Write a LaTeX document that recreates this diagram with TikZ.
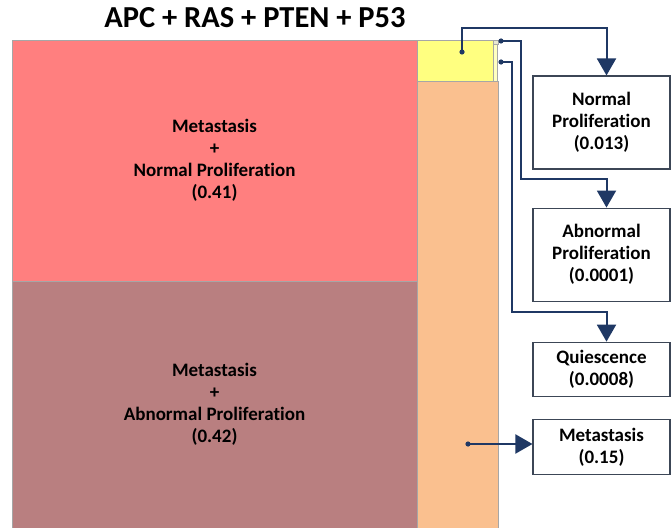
\documentclass[tikz,border=0pt]{standalone}
\usepackage{fontspec}
\setmainfont{Carlito}[Ligatures=CommonOff]
\usetikzlibrary{arrows.meta, positioning, calc}
\definecolor{cNorm}{HTML}{FF7F7F}
\definecolor{cAbn}{HTML}{B97F80}
\definecolor{cYel}{HTML}{FFFF80}
\definecolor{cPale}{HTML}{FFFFC0}
\definecolor{cTiny}{HTML}{E8E8D0}
\definecolor{cMeta}{HTML}{FAC08F}
\definecolor{cLink}{HTML}{1F3864}
\definecolor{cEdge}{HTML}{3C4656}

\begin{document}
\begin{tikzpicture}[
  x=1pt, y=-1pt,
  >={Triangle[length=17pt, width=19pt]},
  txt/.style={font=\fontsize{19}{22}\selectfont\bfseries},
  tile/.style={rectangle, draw=black!35, line width=0.6pt, fill=#1,
               anchor=north west, inner sep=0pt, outer sep=0pt, align=center, txt},
  outbox/.style={rectangle, draw=cEdge, line width=1.1pt, fill=white,
                 align=center, minimum width=137pt, inner sep=0pt, txt},
  link/.style={->, line width=2pt, draw=cLink},
]
\useasboundingbox (0,0) rectangle (671,527);

% title
\node[font=\fontsize{30.5}{34}\selectfont\bfseries, anchor=base] (title) at (255,28) {APC + RAS + PTEN + P53};

% =========================== treemap tiles ===========================
\node[tile=cNorm, minimum width=405pt, minimum height=241pt] (tNorm) at (12,40)
  {Metastasis\\+\\Normal Proliferation\\(0.41)};
\node[tile=cAbn, minimum width=405pt, minimum height=247pt] (tAbn) at (12,281)
  {Metastasis\\+\\Abnormal Proliferation\\(0.42)};
\node[tile=cYel, minimum width=76pt, minimum height=41pt] (tNP) at (417,40) {};
\node[tile=cTiny, minimum width=5pt, minimum height=4pt] (tAP) at (493,40) {};
\node[tile=cPale, minimum width=4pt, minimum height=37pt] (tQ) at (493,44) {};
\node[tile=cMeta, minimum width=81pt, minimum height=447pt] (tMet) at (417,81) {};

% =========================== outcome boxes ===========================
\node[outbox, minimum height=93pt] (oNorm) at (601.5,122.5) {Normal\\Proliferation\\(0.013)};
\node[outbox, minimum height=93pt, below=38pt of oNorm] (oAbn) {Abnormal\\Proliferation\\(0.0001)};
\node[outbox, minimum height=54pt, below=40pt of oAbn] (oQui) {Quiescence\\(0.0008)};
\node[outbox, minimum height=55pt, below=22pt of oQui] (oMet) {Metastasis\\(0.15)};

% dots on the tiles
\coordinate (pNorm) at (462,52);
\coordinate (pAbn)  at (501,41);
\coordinate (pQui)  at (501,62);
\coordinate (pMet)  at (468,444);

\draw[link] (pNorm) -- ++(0,-24) -| ($(oNorm.north)+(5,0)$);
\draw[link] (pAbn) -- ++(20,0) -- ++(0,138) -| ($(oAbn.north)+(5,0)$);
\draw[link] (pQui) -- ++(11,0) -- ++(0,250) -| ($(oQui.north)+(5,0)$);
\draw[link] (pMet) -- (pMet -| oMet.west);

\foreach \p in {pNorm, pAbn, pQui, pMet}
  \fill[cLink] (\p) circle (2.6pt);

\end{tikzpicture}
\end{document}
